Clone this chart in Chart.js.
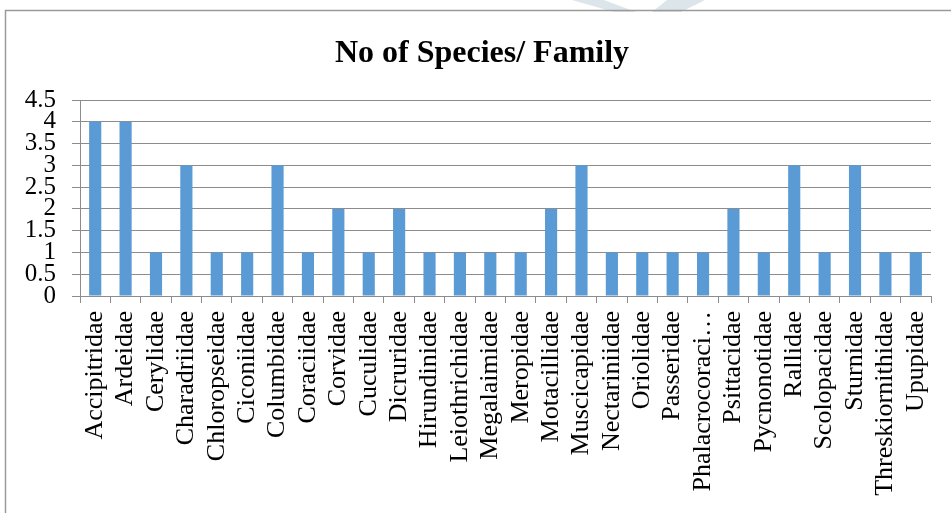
<!DOCTYPE html>
<html>
<head>
<meta charset="utf-8">
<title>No of Species/ Family</title>
<script src="https://cdn.jsdelivr.net/npm/chart.js@4/dist/chart.umd.min.js"></script>
<style>
  html, body { margin: 0; padding: 0; background: #ffffff; }
  #wrap { width: 951px; height: 513px; position: relative; overflow: hidden; }
</style>
</head>
<body>
<div id="wrap"><canvas id="chart" width="951" height="513"></canvas></div>
<script>
// Bird families and the number of species recorded in each
const families = [
  'Accipitridae', 'Ardeidae', 'Cerylidae', 'Charadriidae', 'Chloropseidae',
  'Ciconiidae', 'Columbidae', 'Coraciidae', 'Corvidae', 'Cuculidae',
  'Dicruridae', 'Hirundinidae', 'Leiothrichidae', 'Megalaimidae', 'Meropidae',
  'Motacillidae', 'Muscicapidae', 'Nectariniidae', 'Oriolidae', 'Passeridae',
  'Phalacrocoraci\u2026', 'Psittacidae', 'Pycnonotidae', 'Rallidae', 'Scolopacidae',
  'Sturnidae', 'Threskiornithidae', 'Upupidae'
];
const speciesCount = [
  4, 4, 1, 3, 1,
  1, 3, 1, 2, 1,
  2, 1, 1, 1, 1,
  2, 3, 1, 1, 1,
  1, 2, 1, 3, 1,
  3, 1, 1
];
const yTicks = [0, 0.5, 1, 1.5, 2, 2.5, 3, 3.5, 4, 4.5];
const chartTitle = 'No of Species/ Family';

const serif = "'Liberation Serif', 'Times New Roman', 'DejaVu Serif', serif";
const gridGrey = '#8c8c8c';

// Faint logo shape at the top edge, the outer frame and the heading
const framePlugin = {
  id: 'frame',
  beforeDraw(chart) {
    const ctx = chart.ctx;
    ctx.save();
    ctx.fillStyle = '#ffffff';
    ctx.fillRect(0, 0, chart.width, chart.height);
    ctx.fillStyle = 'rgba(214, 224, 230, 0.85)';
    ctx.beginPath();
    ctx.moveTo(572, 0); ctx.lineTo(604, 0); ctx.lineTo(636, 12); ctx.lineTo(614, 12);
    ctx.closePath(); ctx.fill();
    ctx.beginPath();
    ctx.moveTo(667, 0); ctx.lineTo(705, 0); ctx.lineTo(681, 12); ctx.lineTo(652, 12);
    ctx.closePath(); ctx.fill();
    ctx.strokeStyle = '#9a9a9a';
    ctx.lineWidth = 1.5;
    ctx.beginPath();
    ctx.moveTo(951, 10.5); ctx.lineTo(5.5, 10.5); ctx.lineTo(5.5, 513);
    ctx.stroke();
    ctx.restore();
  },
  afterDraw(chart) {
    const ctx = chart.ctx;
    ctx.save();
    ctx.fillStyle = '#000000';
    ctx.font = 'bold 32px ' + serif;
    ctx.textAlign = 'center';
    ctx.textBaseline = 'alphabetic';
    ctx.fillText(chartTitle, 482, 62);
    ctx.restore();
  }
};

new Chart(document.getElementById('chart'), {
  type: 'bar',
  data: {
    labels: families,
    datasets: [{
      label: 'No of Species',
      data: speciesCount,
      backgroundColor: '#5b9bd5',
      borderWidth: 0,
      barPercentage: 0.4,
      categoryPercentage: 1.0
    }]
  },
  options: {
    responsive: false,
    animation: false,
    devicePixelRatio: 1,
    layout: { padding: { left: 0, right: 20, top: 100, bottom: 0 } },
    plugins: {
      legend: { display: false },
      tooltip: { enabled: false },
      title: { display: false }
    },
    scales: {
      x: {
        offset: true,
        grid: {
          offset: true,
          drawOnChartArea: false,
          drawTicks: true,
          tickLength: 7,
          color: gridGrey
        },
        border: { display: true, color: gridGrey, width: 1 },
        ticks: {
          autoSkip: false,
          minRotation: 90,
          maxRotation: 90,
          padding: 8,
          color: '#000000',
          font: { family: serif, size: 26, lineHeight: 1.0 }
        },
        afterFit(scale) { scale.height = 217; }
      },
      y: {
        min: 0,
        max: 4.5,
        grid: {
          color: gridGrey,
          drawTicks: true,
          tickLength: 8
        },
        border: { display: true, color: gridGrey, width: 1 },
        afterBuildTicks(scale) {
          scale.ticks = yTicks.map(v => ({ value: v }));
        },
        ticks: {
          autoSkip: false,
          padding: 16,
          color: '#000000',
          font: { family: serif, size: 25, lineHeight: 1.0 },
          callback: v => String(v)
        },
        afterFit(scale) { scale.width = 80; }
      }
    }
  },
  plugins: [framePlugin]
});
</script>
</body>
</html>
